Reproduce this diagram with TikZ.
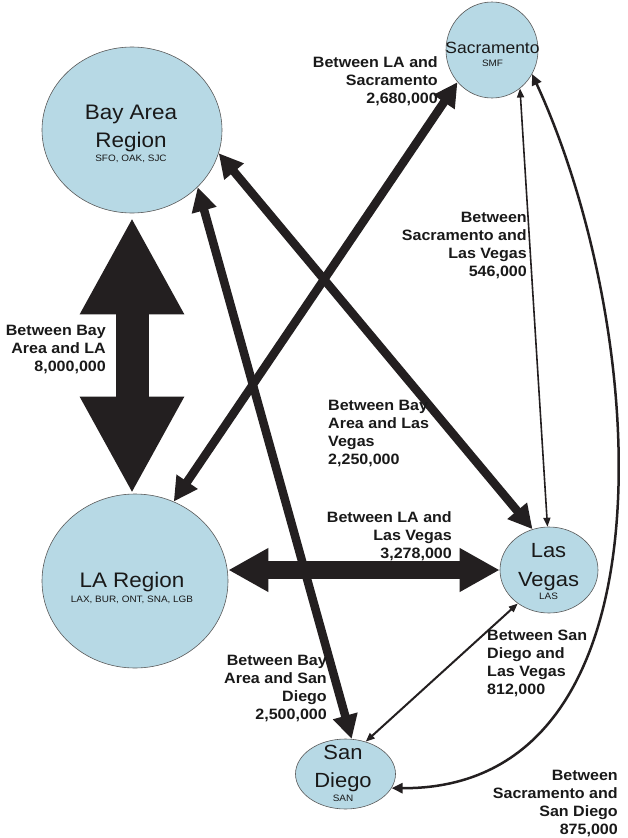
\documentclass[tikz,border=0pt]{standalone}
\usepackage{fontspec}
\setmainfont{Liberation Sans}[FakeStretch=1.07]
\usetikzlibrary{shapes.geometric, arrows.meta, positioning}

\definecolor{regionblue}{RGB}{183,217,229}
\definecolor{flowblack}{RGB}{35,31,32}

\tikzset{
  region/.style={ellipse, draw=black!65, fill=regionblue, line width=0.6pt, inner sep=0pt},
  regiontext/.style={anchor=north, align=center, inner sep=0pt, text=black!90},
  flowlabel/.style={inner sep=0pt, font=\bfseries\fontsize{15}{18}\selectfont, text=black!90},
  flowhuge/.style={flowblack, line width=33pt, {Triangle[length=97pt,width=97pt]}-{Triangle[length=97pt,width=97pt]}},
  flowbig/.style={flowblack, line width=18pt, {Triangle[length=40pt,width=41pt]}-{Triangle[length=40pt,width=41pt]}},
  flowmid/.style={flowblack, line width=8.5pt, {Triangle[length=24pt,width=24pt]}-{Triangle[length=24pt,width=24pt]}},
  flowthin/.style={flowblack, line width=1.6pt, {Triangle[length=9pt,width=7pt]}-{Triangle[length=9pt,width=7pt]}},
  flowcurve/.style={flowblack, line width=2.5pt, {Triangle[length=11pt,width=10pt]}-{Triangle[length=11pt,width=10pt]}}
}

\begin{document}
\begin{tikzpicture}[x=1pt, y=-1pt]
	\useasboundingbox (0,0) rectangle (628,838);
	
	%regions
	\node[region, minimum width=180pt, minimum height=166pt] (bay) at (132,130) {};
	\node[region, minimum width=186pt, minimum height=174pt] (la) at (135,581) {};
	\node[region, minimum width=92pt, minimum height=96pt] (sac) at (492,50) {};
	\node[region, minimum width=98pt, minimum height=86pt] (lv) at (549,570) {};
	\node[region, minimum width=100pt, minimum height=70pt] (sd) at (345.5,774) {};
	
	%text in regions
	\node[regiontext, font=\fontsize{21}{28}\selectfont] (baytext) at (131,105) {Bay Area\\Region\\[-14.6pt]{\fontsize{9.3}{11}\selectfont SFO, OAK, SJC}};
	\node[regiontext, font=\fontsize{21}{28}\selectfont] (latext) at (132,571.7) {LA Region\\[-13pt]{\fontsize{9.3}{11}\selectfont LAX, BUR, ONT, SNA, LGB}};
	\node[regiontext, font=\fontsize{16.3}{20}\selectfont] (sactext) at (492.5,41.7) {Sacramento\\[-6.6pt]{\fontsize{9.3}{11}\selectfont SMF}};
	\node[regiontext, font=\fontsize{20.5}{29}\selectfont] (lvtext) at (548.5,543) {Las\\Vegas\\[-15.5pt]{\fontsize{9.3}{11}\selectfont LAS}};
	\node[regiontext, font=\fontsize{20.5}{28}\selectfont] (sdtext) at (343,745) {San\\Diego\\[-14pt]{\fontsize{9.3}{11}\selectfont SAN}};
	
	%arrows
	\draw[flowhuge, shorten <=4pt] (bay.south) -- (bay.south |- la.north);
	\draw[flowbig] (la.east |- lv.west) -- (lv.west);
	\draw[flowmid] (la.64) -- (sac.223);
	\draw[flowmid] (bay.-15) -- (lv.112);
	\draw[flowmid] (bay.-41) -- (sd.80);
	\draw[flowthin] (sac.-54) -- (lv.92);
	\draw[flowthin, line width=2pt] (sd.58) -- (lv.227);
	\draw[flowcurve] (sac.-31) .. controls (650,330) and (680,790) .. (sd.-17);
	
	%labels
	\node[flowlabel, align=right, anchor=north east] (l1) at (106,324.5) {Between Bay\\Area and LA\\8,000,000};
	\node[flowlabel, align=right, anchor=north east] (l2) at (438,56.5) {Between LA and\\Sacramento\\2,680,000};
	\node[flowlabel, align=right, anchor=north east] (l3) at (527,211.5) {Between\\Sacramento and\\Las Vegas\\546,000};
	\node[flowlabel, align=left, anchor=north west] (l4) at (328,399.5) {Between Bay\\Area and Las\\Vegas\\2,250,000};
	\node[flowlabel, align=right, anchor=north east] (l5) at (452,511) {Between LA and\\Las Vegas\\3,278,000};
	\node[flowlabel, align=left, anchor=north west] (l6) at (487,629.5) {Between San\\Diego and\\Las Vegas\\812,000};
	\node[flowlabel, align=right, anchor=north east] (l7) at (327,654.5) {Between Bay\\Area and San\\Diego\\2,500,000};
	\node[flowlabel, align=right, anchor=north east] (l8) at (618,770) {Between\\Sacramento and\\San Diego\\875,000};
	
\end{tikzpicture}
\end{document}
